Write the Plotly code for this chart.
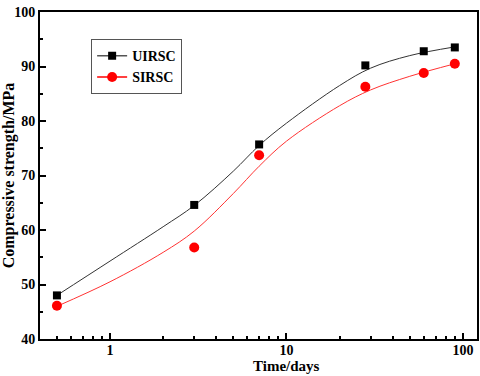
import plotly.graph_objects as go

# measured points
days = [0.5, 3, 7, 28, 60, 90]
uirsc = [48.0, 64.6, 75.7, 90.2, 92.8, 93.5]
sirsc = [46.1, 56.8, 73.7, 86.3, 88.8, 90.5]

# fitted curves
fit_days = [0.5, 1, 2, 3, 5, 7, 10, 20, 30, 50, 90]
uirsc_fit = [48.0, 54.3, 60.6, 64.5, 70.8, 75.5, 79.6, 86.5, 89.7, 92.0, 93.6]
sirsc_fit = [46.0, 50.5, 55.9, 59.8, 66.7, 71.7, 76.3, 82.8, 85.7, 88.2, 90.5]

minor_x = [0.5, 0.6, 0.7, 0.8, 0.9, 2, 3, 4, 5, 6, 7, 8, 9,
           20, 30, 40, 50, 60, 70, 80, 90]

font = "Liberation Serif"

fig = go.Figure()

fig.add_trace(go.Scatter(x=fit_days, y=uirsc_fit, mode='lines', line_shape='spline',
                         line=dict(color='#333333', width=1), showlegend=False))
fig.add_trace(go.Scatter(x=fit_days, y=sirsc_fit, mode='lines', line_shape='spline',
                         line=dict(color='#ff3333', width=1), showlegend=False))
fig.add_trace(go.Scatter(x=days, y=uirsc, mode='markers', showlegend=False,
                         marker=dict(symbol='square', size=8, color='black')))
fig.add_trace(go.Scatter(x=days, y=sirsc, mode='markers', showlegend=False,
                         marker=dict(symbol='circle', size=10, color='red')))

# legend entries
fig.add_trace(go.Scatter(x=[None], y=[None], mode='lines+markers', name='UIRSC',
                         line=dict(color='#555555', width=1.5),
                         marker=dict(symbol='square', size=8, color='black')))
fig.add_trace(go.Scatter(x=[None], y=[None], mode='lines+markers', name='SIRSC',
                         line=dict(color='red', width=1.5),
                         marker=dict(symbol='circle', size=10, color='red')))

fig.update_layout(
    width=480, height=376,
    margin=dict(l=40, r=3, t=12, b=37),
    plot_bgcolor='white', paper_bgcolor='white',
    font=dict(family=font, size=14, color='black'),
    legend=dict(x=0.117, y=0.917, xanchor='left', yanchor='top',
                bordercolor='#555555', borderwidth=1, bgcolor='white',
                font=dict(family=font, size=14, color='black', weight='bold'),
                tracegroupgap=0, itemwidth=30),
    # x title sits right of centre in the original
    annotations=[dict(text='Time/days', xref='paper', yref='paper', x=0.565, y=0,
                      xanchor='center', yanchor='top', yshift=-17, showarrow=False,
                      font=dict(family=font, size=15, weight='bold'))],
)

fig.update_xaxes(
    type='log', range=[-0.397, 2.08], automargin=False,
    tickvals=[1, 10, 100], ticktext=['1', '10', '100'],
    ticks='inside', ticklen=6, tickwidth=1.5, tickcolor='black',
    minor=dict(tickvals=minor_x, ticks='inside', ticklen=3, tickwidth=1.5, tickcolor='black'),
    showline=True, linecolor='black', linewidth=2, mirror=True,
    showgrid=False, zeroline=False, ticklabelstandoff=-3,
    tickfont=dict(family=font, size=14, weight='bold'),
)

fig.update_yaxes(
    range=[40, 100], dtick=10, automargin=False,
    ticks='inside', ticklen=6, tickwidth=1.5, tickcolor='black',
    minor=dict(dtick=5, ticks='inside', ticklen=3, tickwidth=1.5, tickcolor='black'),
    showline=True, linecolor='black', linewidth=2, mirror=True,
    showgrid=False, zeroline=False,
    tickfont=dict(family=font, size=14, weight='bold'),
    title=dict(text='Compressive strength/MPa', font=dict(family=font, size=16, weight='bold'), standoff=0),
)

# drop the browser's default page margin so the figure sits at the top-left corner
fig.write_html("out.html", config={'displayModeBar': False},
               post_script="document.body.style.margin='0';")
